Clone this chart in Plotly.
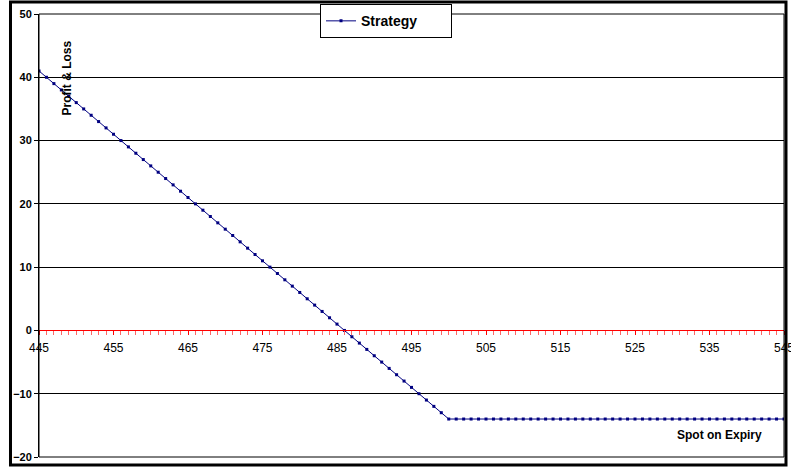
import plotly.graph_objects as go

# Spot price on expiry (x) and strategy profit & loss (y)
spot = [
    445, 446, 447, 448, 449, 450, 451, 452, 453, 454,
    455, 456, 457, 458, 459, 460, 461, 462, 463, 464,
    465, 466, 467, 468, 469, 470, 471, 472, 473, 474,
    475, 476, 477, 478, 479, 480, 481, 482, 483, 484,
    485, 486, 487, 488, 489, 490, 491, 492, 493, 494,
    495, 496, 497, 498, 499, 500, 501, 502, 503, 504,
    505, 506, 507, 508, 509, 510, 511, 512, 513, 514,
    515, 516, 517, 518, 519, 520, 521, 522, 523, 524,
    525, 526, 527, 528, 529, 530, 531, 532, 533, 534,
    535, 536, 537, 538, 539, 540, 541, 542, 543, 544,
    545,
]
pnl = [
    41, 40, 39, 38, 37, 36, 35, 34, 33, 32,
    31, 30, 29, 28, 27, 26, 25, 24, 23, 22,
    21, 20, 19, 18, 17, 16, 15, 14, 13, 12,
    11, 10, 9, 8, 7, 6, 5, 4, 3, 2,
    1, 0, -1, -2, -3, -4, -5, -6, -7, -8,
    -9, -10, -11, -12, -13, -14, -14, -14, -14, -14,
    -14, -14, -14, -14, -14, -14, -14, -14, -14, -14,
    -14, -14, -14, -14, -14, -14, -14, -14, -14, -14,
    -14, -14, -14, -14, -14, -14, -14, -14, -14, -14,
    -14, -14, -14, -14, -14, -14, -14, -14, -14, -14,
    -14,
]
series_name = "Strategy"
x_title = "Spot on Expiry"
y_title = "Profit & Loss"
x_range = [445, 545]
y_range = [-20, 50]

FONT = "Arial, Liberation Sans, sans-serif"

fig = go.Figure()
fig.add_trace(go.Scatter(
    x=spot, y=pnl, name=series_name, mode="lines+markers",
    line=dict(color="#000080", width=1),
    marker=dict(color="#000080", size=3, symbol="square"),
    showlegend=True,
))

# position of y=0 as a fraction of the plot height
zero_pos = (0 - y_range[0]) / (y_range[1] - y_range[0])

fig.update_layout(
    width=791, height=468,
    margin=dict(l=39, r=7, t=14, b=11, autoexpand=False),
    paper_bgcolor="white", plot_bgcolor="white",
    font=dict(family=FONT, color="black"),
    xaxis=dict(
        range=x_range, anchor="free", position=zero_pos, automargin=False,
        showgrid=False, zeroline=False,
        showline=True, linecolor="red", linewidth=1,
        tick0=445, dtick=10, ticks="outside", ticklen=4, tickcolor="red", tickwidth=1,
        minor=dict(dtick=1, ticks="outside", ticklen=4, tickcolor="#ff6666", tickwidth=1, showgrid=False),
        tickfont=dict(size=12, color="black", family=FONT),
        ticklabeloverflow="allow", ticklabelstandoff=2,
    ),
    yaxis=dict(
        range=y_range, dtick=10, tick0=-20, automargin=False,
        showgrid=True, gridcolor="black", gridwidth=1,
        zeroline=False,
        showline=True, linecolor="black", linewidth=1,
        ticks="outside", ticklen=4, tickcolor="black",
        tickfont=dict(size=11, color="black", family=FONT, weight="bold"),
    ),
    legend=dict(
        orientation="h", x=0.4658, xanchor="center", y=1.022, yanchor="top",
        bgcolor="white", bordercolor="black", borderwidth=1,
        font=dict(size=14, family=FONT, color="black", weight="bold"),
        itemwidth=30, tracegroupgap=0, entrywidth=85,
    ),
    annotations=[
        dict(text=y_title, xref="paper", yref="paper", x=0.0389, y=0.8567,
             textangle=-90, showarrow=False, xanchor="center", yanchor="middle",
             font=dict(size=12, family=FONT, color="black", weight="bold")),
        dict(text=x_title, xref="paper", yref="paper", x=0.9128, y=0.0497,
             showarrow=False, xanchor="center", yanchor="middle",
             font=dict(size=12, family=FONT, color="black", weight="bold")),
    ],
    shapes=[
        # plot area frame
        dict(type="rect", xref="paper", yref="paper", x0=0, x1=1, y0=0, y1=1,
             line=dict(color="black", width=1), layer="above"),
        # outer chart border
        dict(type="rect", xref="paper", yref="paper",
             x0=-0.03826, x1=1.00268, y0=-0.01806, y1=1.0271,
             line=dict(color="black", width=3), layer="above"),
    ],
)

fig.write_html("out.html")
